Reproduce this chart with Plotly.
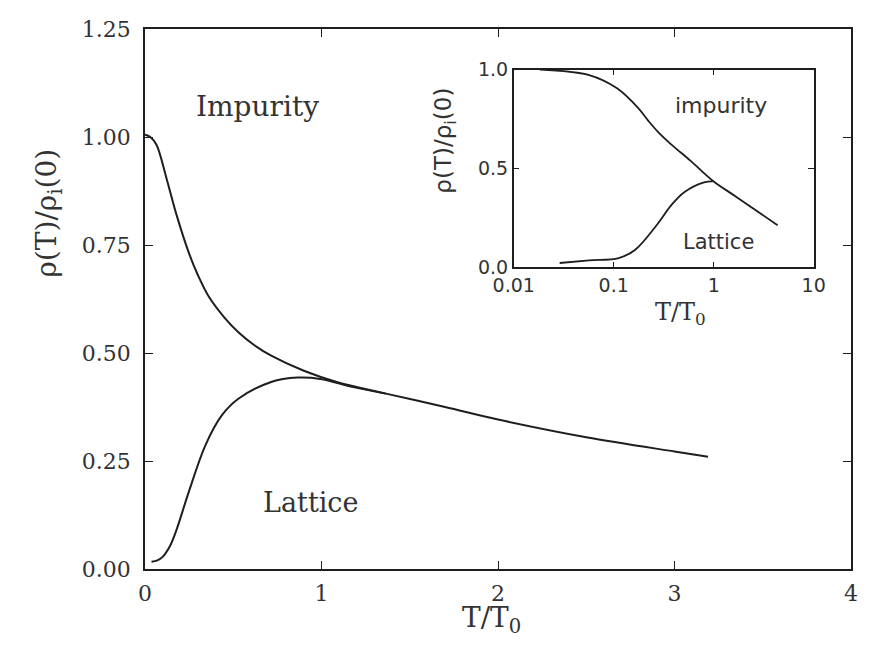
import plotly.graph_objects as go

# main panel data (T/T0 linear)
imp_T = [0.0, 0.03, 0.065, 0.12, 0.177, 0.25, 0.30, 0.362, 0.45, 0.529, 0.62, 0.715, 0.9, 1.086, 1.365, 1.7, 2.0, 2.5, 3.0, 3.19]
imp_rho = [1.005, 1.0, 0.982, 0.907, 0.822, 0.730, 0.680, 0.630, 0.582, 0.548, 0.518, 0.494, 0.459, 0.433, 0.406, 0.375, 0.346, 0.305, 0.272, 0.26]
lat_T = [0.037, 0.07, 0.10, 0.14, 0.177, 0.25, 0.344, 0.436, 0.529, 0.715, 0.864, 0.993, 1.18, 1.365]
lat_rho = [0.017, 0.020, 0.028, 0.052, 0.089, 0.181, 0.288, 0.356, 0.394, 0.433, 0.443, 0.440, 0.421, 0.406]

# inset data (T/T0 log)
in_imp_T = [0.0183, 0.0568, 0.108, 0.176, 0.221, 0.277, 0.375, 0.589, 0.977, 1.70, 4.36]
in_imp_rho = [1.0, 0.972, 0.905, 0.805, 0.742, 0.685, 0.622, 0.538, 0.438, 0.355, 0.213]
in_lat_T = [0.0288, 0.0568, 0.112, 0.163, 0.277, 0.375, 0.507, 0.80, 0.977]
in_lat_rho = [0.022, 0.035, 0.047, 0.088, 0.222, 0.313, 0.38, 0.43, 0.435]

main_xticks = [0, 1, 2, 3, 4]
main_yticks = [0.0, 0.25, 0.5, 0.75, 1.0, 1.25]
main_ytext = ["0.00", "0.25", "0.50", "0.75", "1.00", "1.25"]
inset_xticks = [0.01, 0.1, 1, 10]
inset_xtext = ["0.01", "0.1", "1", "10"]
inset_yticks = [0.0, 0.5, 1.0]
inset_ytext = ["0.0", "0.5", "1.0"]

LC = "#1e1e1e"
TC = "#333333"
SERIF = "DejaVu Serif"
SANS = "DejaVu Sans"

fig = go.Figure()
fig.add_trace(go.Scatter(x=imp_T, y=imp_rho, mode="lines", line=dict(color=LC, width=2, shape="spline", smoothing=1.0), showlegend=False))
fig.add_trace(go.Scatter(x=lat_T, y=lat_rho, mode="lines", line=dict(color=LC, width=2, shape="spline", smoothing=1.0), showlegend=False))
fig.add_trace(go.Scatter(x=in_imp_T, y=in_imp_rho, mode="lines", xaxis="x2", yaxis="y2", line=dict(color=LC, width=1.8, shape="spline", smoothing=1.0), showlegend=False))
fig.add_trace(go.Scatter(x=in_lat_T, y=in_lat_rho, mode="lines", xaxis="x2", yaxis="y2", line=dict(color=LC, width=1.8, shape="spline", smoothing=1.0), showlegend=False))

axcommon = dict(showline=True, linecolor=LC, linewidth=1.5, mirror="ticks", ticks="inside",
                tickcolor=LC, showgrid=False, zeroline=False)

# page body has an 8px margin on every side, so the figure is 864x630;
# plot area on screen: x 145..863, y 23..569
fig.update_layout(
    width=864, height=630,
    margin=dict(l=137, r=9, t=15, b=69),
    paper_bgcolor="white", plot_bgcolor="white",
    xaxis=dict(range=[0, 4], tickvals=main_xticks, ticklen=8, tickwidth=1.2,
               tickfont=dict(family=SERIF, size=22, color=TC), ticklabelstandoff=4, **axcommon),
    yaxis=dict(range=[0, 1.25], tickvals=main_yticks, ticktext=main_ytext, ticklen=8, tickwidth=1.2,
               tickfont=dict(family=SERIF, size=22, color=TC), ticklabelstandoff=8, **axcommon),
    xaxis2=dict(type="log", range=[-2, 1], domain=[0.5223, 0.9471], anchor="y2",
                tickvals=inset_xticks, ticktext=inset_xtext, ticklen=6, tickwidth=1,
                tickfont=dict(family=SANS, size=19, color=TC), **axcommon),
    yaxis2=dict(range=[0, 1], domain=[0.5586, 0.9249], anchor="x2",
                tickvals=inset_yticks, ticktext=inset_ytext, ticklen=6, tickwidth=1,
                tickfont=dict(family=SANS, size=19, color=TC), **axcommon),
)

def px_x(px):
    return (px - 145) / 718

def px_y(py):
    return (569 - py) / 546

ann = [
    dict(text="Impurity", x=0.64, y=1.07, xref="x", yref="y", font=dict(family=SERIF, size=28, color=TC)),
    dict(text="Lattice", x=0.94, y=0.153, xref="x", yref="y", font=dict(family=SERIF, size=27, color=TC)),
    dict(text="T/T<sub>0</sub>", x=px_x(497), y=px_y(620), xref="paper", yref="paper", font=dict(family=SERIF, size=28, color=TC)),
    dict(text="ρ(T)/ρ<sub>i</sub>(0)", x=px_x(47), y=px_y(209), xref="paper", yref="paper", textangle=-90,
         font=dict(family=SERIF, size=28, color=TC)),
    dict(text="impurity", x=0.075, y=0.82, xref="x2", yref="y2", font=dict(family=SANS, size=22, color=TC)),
    dict(text="Lattice", x=0.045, y=0.13, xref="x2", yref="y2", font=dict(family=SANS, size=21, color=TC)),
    dict(text="T/T<sub>0</sub>", x=px_x(690), y=px_y(311), xref="paper", yref="paper",
         font=dict(family=SERIF, size=24, color=TC)),
    dict(text="ρ(T)/ρ<sub>i</sub>(0)", x=px_x(450), y=px_y(136), xref="paper", yref="paper", textangle=-90,
         font=dict(family=SANS, size=23, color=TC)),
]
for a in ann:
    a["showarrow"] = False
    a["xanchor"] = "center"
    a["yanchor"] = "middle"
fig.update_layout(annotations=ann)

fig.write_html("out.html")
